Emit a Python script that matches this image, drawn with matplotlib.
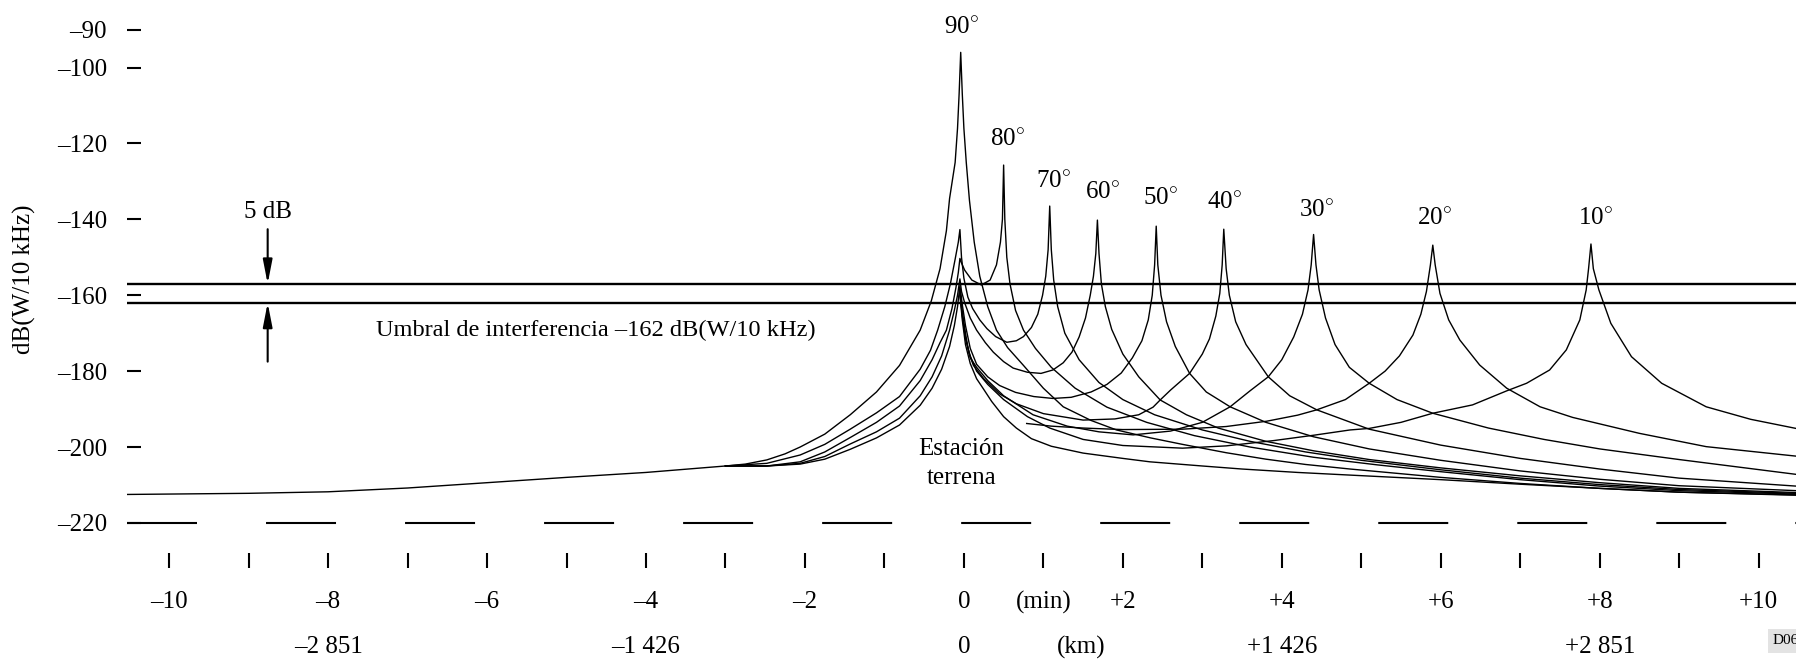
import matplotlib.pyplot as plt

plt.rcParams['font.family'] = 'Liberation Serif'
plt.rcParams['mathtext.fontset'] = 'custom'
plt.rcParams['mathtext.rm'] = 'Liberation Serif'
plt.rcParams['lines.scale_dashes'] = False

# Ejes
db_ticks = [-220, -200, -180, -160, -140, -120, -100, -90]
db_labels = ['–220', '–200', '–180', '–160', '–140', '–120', '–100', '–90']
minutes = list(range(-10, 11))
minute_labels = ['–10', '', '–8', '', '–6', '', '–4', '', '–2', '', '0', '(min)',
                 '+2', '', '+4', '', '+6', '', '+8', '', '+10']
km_pos = [-8, -4, 0, 1.48, 4, 8]
km_labels = ['–2 851', '–1 426', '0', '(km)', '+1 426', '+2 851']

umbral = -162      # dB(W/10 kHz)
margen = 5         # dB

# Tramo comun a la izquierda
t_tronco = [-10.53, -9, -8, -7, -6, -5, -4, -3]
db_tronco = [-212.5, -212.2, -211.8, -210.8, -209.4, -208.0, -206.7, -205.0]

# Curvas por angulo de elevacion
t90 = [-3, -2.75, -2.48, -2.25, -2.06, -1.75, -1.43, -1.1, -0.81, -0.55, -0.41, -0.30,
       -0.22, -0.18, -0.11, -0.08, -0.06, -0.04, -0.02, 0.0, 0.03, 0.07, 0.13, 0.2, 0.3,
       0.41, 0.55, 0.75, 1.0, 1.25, 1.6, 1.92, 2.35, 2.75, 3.3, 3.8, 4.3, 4.86, 6, 7, 8,
       9, 10.47]
db90 = [-205, -204.5, -203.4, -201.8, -200, -196.6, -191.5, -185.5, -178.5, -169.2,
        -161.5, -153, -143, -134.5, -125, -116, -107, -96, -107, -116, -125, -135, -146,
        -155, -163, -169.2, -173.8, -178.5, -184.5, -189.4, -193, -195.5, -197.6, -199.3,
        -201.5, -203.2, -204.6, -205.8, -208, -209.6, -210.9, -211.9, -212.6]

t70 = [-3, -2.48, -2.06, -1.75, -1.43, -1.1, -0.81, -0.55, -0.42, -0.33, -0.24, -0.17,
       -0.11, -0.07, -0.05, -0.03, 0.0, 0.05, 0.11, 0.2, 0.29, 0.4, 0.54, 0.66, 0.75,
       0.85, 0.93, 0.99, 1.03, 1.06, 1.08, 1.10, 1.13, 1.18, 1.27, 1.45, 1.7, 2.0, 2.4,
       3.0, 3.6, 4.3, 5.0, 6, 7, 8, 9, 10.47]
db70 = [-205, -204.3, -202.1, -199.3, -195.3, -191, -186.7, -179.5, -174.5, -169.2,
        -163, -157, -150.5, -146, -142.7, -150, -155.5, -160.5, -163.5, -166.5, -168.8,
        -170.9, -172.4, -172, -170.9, -168.5, -165, -160, -155, -148, -136.5, -148, -156,
        -163, -170, -177, -183, -187.5, -191.5, -195.5, -198.5, -201.3, -203.5, -206,
        -208.2, -209.9, -211.2, -212.2]

t80 = [-3, -2.48, -2.06, -1.75, -1.43, -1.1, -0.81, -0.55, -0.4, -0.3, -0.22, -0.15,
       -0.1, -0.07, -0.05, -0.03, 0.01, 0.10, 0.22, 0.33, 0.41, 0.46, 0.485, 0.50, 0.515,
       0.54, 0.58, 0.65, 0.75, 0.9, 1.1, 1.4, 1.8, 2.3, 2.9, 3.6, 4.4, 5.2, 6, 7, 8, 9,
       10.47]
db80 = [-205, -205, -203.9, -201.3, -197.5, -193.5, -189.2, -182.5, -177, -172.5,
        -169.2, -163.5, -158, -154, -150.3, -151.5, -153.4, -156, -157.3, -156, -152,
        -146, -140, -125.7, -140, -150, -157, -164, -169.2, -174, -179, -184.5, -189.5,
        -193.5, -197, -200, -202.7, -204.7, -206.5, -208.6, -210.3, -211.5, -212.4]

t60 = [-3, -2.48, -2.06, -1.75, -1.43, -1.1, -0.81, -0.55, -0.4, -0.28, -0.18, -0.12,
       -0.08, -0.05, -0.03, 0.01, 0.08, 0.16, 0.27, 0.37, 0.5, 0.62, 0.8, 0.97, 1.12,
       1.25, 1.36, 1.45, 1.53, 1.59, 1.63, 1.66, 1.68, 1.70, 1.73, 1.78, 1.86, 2.0, 2.2,
       2.47, 2.8, 3.2, 3.8, 4.4, 5.1, 6, 7, 8, 9, 10.47]
db60 = [-205, -205, -204.3, -202.5, -199.2, -196, -192.4, -186.5, -181.5, -176,
        -169.2, -164, -160, -155.7, -159, -162, -166, -169.2, -172.5, -175, -177.5,
        -179.2, -180.3, -180.6, -179.7, -177.8, -175, -171, -166, -160, -155, -149,
        -140.2, -149, -157, -163, -169, -175.5, -181.5, -187.6, -191.5, -195, -198.5,
        -201, -203.3, -205.5, -207.6, -209.4, -210.9, -212.0]

t50 = [-3, -2.48, -2.06, -1.75, -1.43, -1.1, -0.81, -0.55, -0.4, -0.28, -0.18, -0.12,
       -0.08, -0.05, -0.02, 0.02, 0.08, 0.16, 0.3, 0.45, 0.65, 0.88, 1.12, 1.35, 1.6,
       1.8, 1.98, 2.12, 2.24, 2.32, 2.37, 2.40, 2.42, 2.44, 2.48, 2.55, 2.66, 2.84, 3.05,
       3.35, 3.8, 4.4, 5.1, 6, 7, 8, 9, 10.47]
db50 = [-205, -205, -204.5, -203.2, -200.6, -197.6, -194.2, -189, -184.5, -179.5,
        -173.5, -168, -163, -157.5, -162.5, -168, -174, -178.2, -181.5, -183.8, -185.6,
        -186.7, -187.2, -186.9, -185.5, -183.5, -180.5, -176.5, -172, -166.5, -160, -152,
        -141.8, -152, -160, -167, -173.5, -180.6, -185.5, -189.4, -193.5, -197.3, -200.5,
        -203.5, -206.3, -208.5, -210.2, -211.5]

t40 = [-0.05, -0.02, 0.02, 0.06, 0.12, 0.25, 0.45, 0.66, 1.0, 1.5, 1.9, 2.2, 2.38,
       2.47, 2.6, 2.84, 3.0, 3.09, 3.17, 3.22, 3.25, 3.27, 3.30, 3.34, 3.42, 3.55, 3.83,
       4.1, 4.44, 5.1, 6, 7, 8, 9, 10.47]
db40 = [-158.5, -164.5, -170, -175, -178.5, -182, -186, -188.6, -191.2, -192.9,
        -192.6, -191.5, -189.5, -187.6, -185, -180.6, -175.5, -171.5, -165.5, -159.5,
        -152, -142.6, -153, -160, -167, -173, -181.5, -186.5, -190.2, -195.3, -199.5,
        -203, -205.8, -208.2, -210.3]

t30 = [-0.05, -0.02, 0.02, 0.08, 0.16, 0.3, 0.5, 0.87, 1.3, 1.7, 2.13, 2.6, 3.0, 3.35,
       3.6, 3.83, 4.0, 4.15, 4.26, 4.33, 4.37, 4.40, 4.43, 4.47, 4.55, 4.67, 4.85, 5.1,
       5.45, 5.9, 6.6, 7.3, 8, 9, 10.47]
db30 = [-159, -165, -171, -176.5, -179, -182.5, -186.5, -191.5, -194.5, -196, -196.8,
        -195.8, -193.5, -189.4, -185.2, -181.5, -177, -171, -165, -158.6, -152, -144,
        -152, -158.6, -166, -173, -179, -183.2, -187.5, -191.1, -195, -198, -200.5,
        -203.3, -207.2]

t20 = [0.79, 1.1, 1.5, 2.0, 2.75, 3.3, 3.81, 4.2, 4.44, 4.8, 5.1, 5.3, 5.48, 5.65,
       5.75, 5.82, 5.87, 5.90, 5.93, 5.99, 6.1, 6.24, 6.49, 6.83, 7.25, 7.66, 8.5, 9.34,
       10.47]
db20 = [-193.8, -194.5, -195.0, -195.4, -195.3, -194.6, -193.2, -191.6, -190.2, -187.5,
        -183.2, -180, -176, -170.5, -165, -159, -152, -146.8, -152, -159.5, -166.5,
        -171.8, -178.4, -184.5, -189.4, -192.2, -196.4, -199.9, -202.4]

t10 = [-0.05, -0.02, 0.02, 0.08, 0.16, 0.3, 0.5, 0.8, 1.08, 1.5, 2.0, 2.75, 3.3, 3.9,
       4.4, 4.86, 5.1, 5.5, 5.9, 6.4, 6.83, 7.08, 7.37, 7.58, 7.75, 7.83, 7.86, 7.89,
       7.92, 7.99, 8.14, 8.4, 8.78, 9.34, 9.9, 10.47]
db10 = [-159.5, -165.5, -171.5, -176, -180, -183.5, -187.5, -192, -195, -198, -199.6,
        -200.3, -199.7, -198.3, -196.9, -195.5, -195.1, -193.5, -191.1, -188.9, -185.2,
        -183.2, -179.7, -174.4, -166.5, -158.6, -153, -146.5, -153, -158.6, -167.4,
        -176.2, -183.2, -189.4, -192.7, -195.1]

# linea inferior que sale de la estacion terrena
t_inf = [-0.05, -0.02, 0.02, 0.08, 0.16, 0.24, 0.35, 0.5, 0.66, 0.85, 1.1, 1.5, 2.0,
         2.34, 3.0, 3.5, 4.2, 4.86, 6, 7, 8, 9, 10.47]
db_inf = [-160, -166.5, -173, -178, -182, -184.5, -188, -192, -195, -197.8, -199.8,
          -201.6, -203, -203.9, -205, -205.8, -206.7, -207.4, -208.6, -209.8, -210.9,
          -211.9, -212.7]

angulos = ['90', '80', '70', '60', '50', '40', '30', '20', '10']
t_etiqueta = [-0.03, 0.55, 1.13, 1.74, 2.47, 3.28, 4.44, 5.92, 7.95]
db_etiqueta = [-89.6, -119.1, -130.2, -133.1, -134.7, -135.7, -137.8, -139.9, -139.9]

curvas = [(t90, db90), (t80, db80), (t70, db70), (t60, db60), (t50, db50),
          (t40, db40), (t30, db30), (t20, db20), (t10, db10), (t_inf, db_inf)]

fig = plt.figure(figsize=(17.96, 6.61), dpi=100)
ax = fig.add_axes([127 / 1796, 1 - 525 / 661, 1 - 127 / 1796, 525 / 661])
ax.set_xlim(-10.53, 10.47)
ax.set_ylim(-220.55, -82.2)

ax.plot(t_tronco, db_tronco, color='black', lw=1.0)
for t, db in curvas:
    ax.plot(t, db, color='black', lw=1.0, solid_joinstyle='round')

for s, t, db in zip(angulos, t_etiqueta, db_etiqueta):
    ax.text(t, db, s + r'$^{\circ}$', fontsize=18, ha='center', va='center')

# umbral de interferencia y margen de 5 dB
ax.axhline(umbral, color='black', lw=1.7)
ax.axhline(umbral + margen, color='black', lw=1.7)
x_flecha = -8.76
ax.annotate('', xy=(x_flecha, umbral + margen), xytext=(x_flecha, -142.6),
            arrowprops=dict(arrowstyle='-|>,head_length=0.72,head_width=0.14',
                            mutation_scale=20, color='black', lw=1.5,
                            shrinkA=0, shrinkB=0))
ax.annotate('', xy=(x_flecha, umbral), xytext=(x_flecha, -177.5),
            arrowprops=dict(arrowstyle='-|>,head_length=0.72,head_width=0.14',
                            mutation_scale=20, color='black', lw=1.5,
                            shrinkA=0, shrinkB=0))
ax.text(x_flecha, -138.0, '5 dB', fontsize=18, ha='center', va='center')
ax.text(-7.40, -169.3, 'Umbral de interferencia –162 dB(W/10 kHz)', fontsize=17.6,
        ha='left', va='center')

ax.text(-0.03, -200.5, 'Estación', fontsize=18, ha='center', va='center')
ax.text(-0.03, -208.2, 'terrena', fontsize=18, ha='center', va='center')

# linea de base discontinua en -220
ax.axhline(-220, color='black', lw=1.5, linestyle=(0, (50.4, 49.7)))

ax.spines['left'].set_visible(False)
ax.spines['right'].set_visible(False)
ax.spines['top'].set_visible(False)
ax.spines['bottom'].set_position(('outward', 31))
ax.spines['bottom'].set_visible(False)

ax.set_yticks(db_ticks)
ax.set_yticklabels(db_labels)
ax.tick_params(axis='y', direction='in', length=10, width=1.5, pad=14.4, labelsize=18)
ax.set_xticks(minutes)
ax.set_xticklabels(minute_labels)
ax.tick_params(axis='x', direction='in', length=10.8, width=1.5, pad=16.6, labelsize=18)

for p, s in zip(km_pos, km_labels):
    ax.text(p, -0.233, s, transform=ax.get_xaxis_transform(), fontsize=18,
            ha='center', va='center')

fig.text(24 / 1796, 1 - 279 / 661, 'dB(W/10 kHz)', rotation=90, fontsize=18,
         ha='center', va='center')
fig.text(1773 / 1796, 1 - 641 / 661, 'D06', fontsize=11, ha='left', va='center',
         bbox=dict(boxstyle='square,pad=0.35', facecolor='#e3e3e3', edgecolor='none'))

fig.savefig('out.png', dpi=100)
